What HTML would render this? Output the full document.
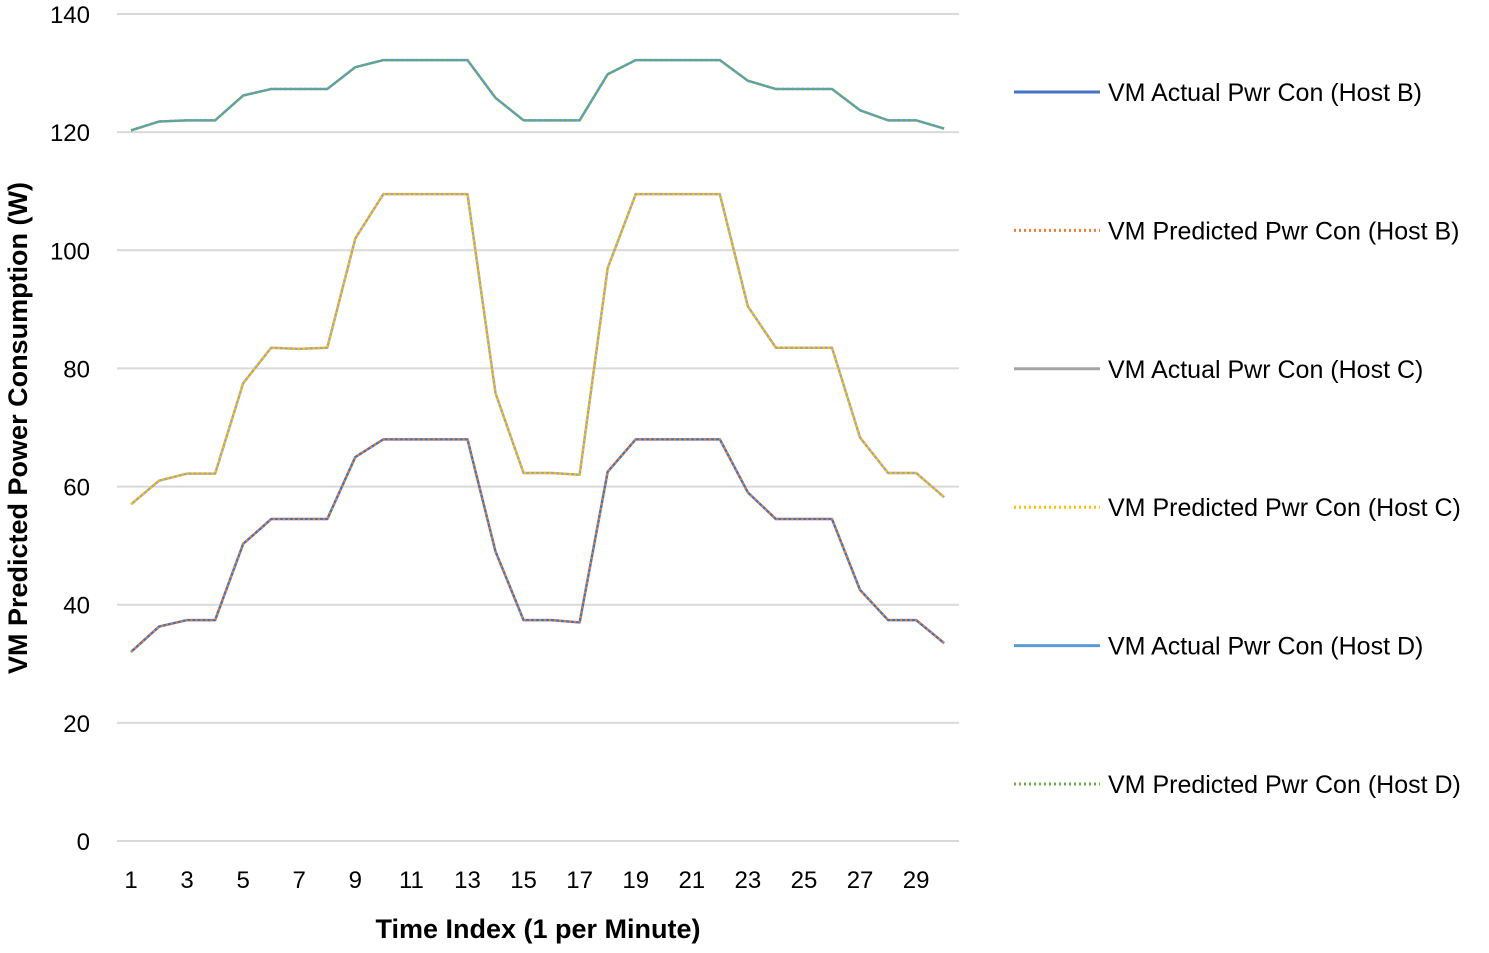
<!DOCTYPE html>
<html><head><meta charset="utf-8"><style>
body{margin:0;background:#fff;font-family:"Liberation Sans",sans-serif}
svg text{font-family:"Liberation Sans",sans-serif;fill:#000}
</style></head><body>
<svg id="c" width="1489" height="948"></svg>
<script>
const categories=[1,2,3,4,5,6,7,8,9,10,11,12,13,14,15,16,17,18,19,20,21,22,23,24,25,26,27,28,29,30];
const xTickLabels=[1,3,5,7,9,11,13,15,17,19,21,23,25,27,29];
const yTicks=[0,20,40,60,80,100,120,140];
const hostB=[32,36.3,37.4,37.4,50.3,54.5,54.5,54.5,65,68,68,68,68,49,37.4,37.4,37,62.5,68,68,68,68,59,54.5,54.5,54.5,42.5,37.4,37.4,33.5];
const hostBPred=[32,36.3,37.4,37.4,50.3,54.5,54.5,54.5,65,68,68,68,68,49,37.4,37.4,37,62.5,68,68,68,68,59,54.5,54.5,54.5,42.5,37.4,37.4,33.5];
const hostC=[57,61,62.2,62.2,77.5,83.5,83.3,83.5,102,109.5,109.5,109.5,109.5,75.8,62.3,62.3,62,97,109.5,109.5,109.5,109.5,90.5,83.5,83.5,83.5,68.3,62.3,62.3,58.2];
const hostCPred=[57,61,62.2,62.2,77.5,83.5,83.3,83.5,102,109.5,109.5,109.5,109.5,75.8,62.3,62.3,62,97,109.5,109.5,109.5,109.5,90.5,83.5,83.5,83.5,68.3,62.3,62.3,58.2];
const hostD=[120.3,121.8,122,122,126.2,127.3,127.3,127.3,131,132.2,132.2,132.2,132.2,125.8,122,122,122,129.8,132.2,132.2,132.2,132.2,128.7,127.3,127.3,127.3,123.7,122,122,120.6];
const hostDPred=[120.3,121.8,122,122,126.2,127.3,127.3,127.3,131,132.2,132.2,132.2,132.2,125.8,122,122,122,129.8,132.2,132.2,132.2,132.2,128.7,127.3,127.3,127.3,123.7,122,122,120.6];
const seriesNames=["VM Actual Pwr Con (Host B)","VM Predicted Pwr Con (Host B)","VM Actual Pwr Con (Host C)","VM Predicted Pwr Con (Host C)","VM Actual Pwr Con (Host D)","VM Predicted Pwr Con (Host D)"];

const NS="http://www.w3.org/2000/svg";
const svg=document.getElementById('c');
const x=i=>131+(i-1)*28.04;
const y=v=>841-v*(827/140);
function mk(t,a,p){const e=document.createElementNS(NS,t);for(const k in a)e.setAttribute(k,a[k]);(p||svg).appendChild(e);return e;}
yTicks.forEach(v=>{
 const g=mk('line',{x1:117,x2:959,y1:y(v),y2:y(v),stroke:'#d9d9d9','stroke-width':2});
 
 
 const t=mk('text',{x:90,y:y(v)+9,'text-anchor':'end','font-size':24});
 t.textContent=v;
 
 
});
xTickLabels.forEach(c=>{
 const t=mk('text',{x:x(c),y:888,'text-anchor':'middle','font-size':24});
 t.textContent=c;
 
 
});
const yt=mk('text',{x:0,y:0,'text-anchor':'middle','font-size':27,'font-weight':'bold',transform:'translate(27,428) rotate(-90)'});
yt.textContent='VM Predicted Power Consumption (W)';


const xt=mk('text',{x:538,y:938,'text-anchor':'middle','font-size':27,'font-weight':'bold'});
xt.textContent='Time Index (1 per Minute)';



const series=[[hostB,'#4472C4',null],[hostBPred,'#ED7D31','2,3'],[hostC,'#A5A5A5',null],[hostCPred,'#FFC000','2,3'],[hostD,'#5B9BD5',null],[hostDPred,'#70AD47','2,3']];
series.forEach((s,k)=>{
 const pts=s[0].map((v,i)=>x(categories[i])+','+y(v)).join(' ');
 const a={points:pts,fill:'none',stroke:s[1],'stroke-width':2.5,'stroke-linejoin':'round'};
 if(s[2])a['stroke-dasharray']=s[2];
 const l=mk('polyline',a);
 
 
 const ly=92+k*138.4;
 const la={x1:1014,x2:1100,y1:ly,y2:ly,stroke:s[1],'stroke-width':3};
 if(s[2])la['stroke-dasharray']=s[2];
 const ll=mk('line',la);
 
 
 const lt=mk('text',{x:1108,y:ly+9,'font-size':25});
 lt.textContent=seriesNames[k];
 
 
});
</script>
</body></html>
